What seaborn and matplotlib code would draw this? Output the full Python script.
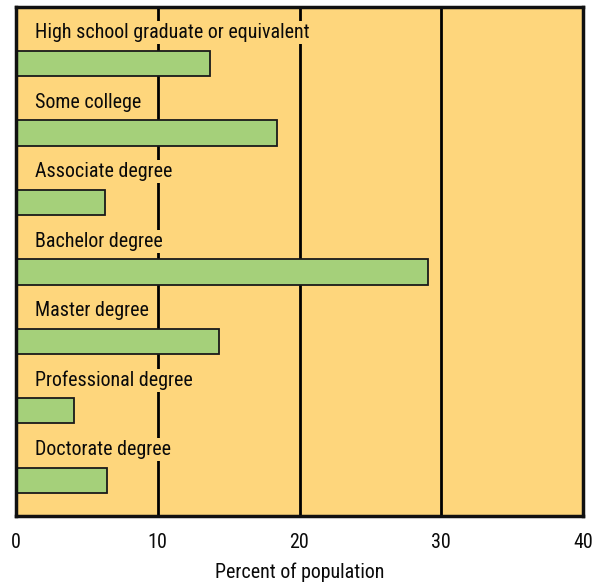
import matplotlib
matplotlib.use("Agg")
import matplotlib.pyplot as plt
import seaborn as sns
import pandas as pd

# data
categories = ["High school graduate or equivalent", "Some college", "Associate degree",
              "Bachelor degree", "Master degree", "Professional degree", "Doctorate degree"]
percent = [13.7, 18.4, 6.3, 29.1, 14.3, 4.1, 6.4]
x_ticks = [0, 10, 20, 30, 40]

bg = "#FED67C"
bar_col = "#A5D07A"

sns.set_theme(style="white")
plt.rcParams["font.family"] = ["Roboto Condensed", "Lato", "DejaVu Sans"]

df = pd.DataFrame({"level": categories, "pct": percent})

fig = plt.figure(figsize=(5.99, 5.82), dpi=100)
ax = fig.add_axes([16 / 599, (582 - 516) / 582, (583 - 16) / 599, (516 - 7) / 582])
ax.set_facecolor(bg)

for t in x_ticks[1:-1]:
    ax.axvline(t, color="black", lw=2, zorder=1)

sns.barplot(data=df, x="pct", y="level", orient="h", color=bar_col, width=0.36,
            edgecolor="#1a1a1a", linewidth=1.3, saturation=1, ax=ax, zorder=3)

for i, name in enumerate(categories):
    ax.text(1.35, i - 0.44, name, fontsize=14.4, va="center",
            ha="left", color="#0a0a0a", zorder=4,
            bbox=dict(facecolor=bg, edgecolor="none", pad=1.5))

ax.set_xlim(0, 40)
ax.set_ylim(6.511, -0.813)
ax.set_xticks(x_ticks)
ax.set_xticklabels([str(t) for t in x_ticks], fontsize=14.4, color="#0a0a0a")
ax.set_yticks([])
ax.set_ylabel("")
ax.set_xlabel("Percent of population", fontsize=14.4, color="#0a0a0a", labelpad=8)
ax.tick_params(axis="x", length=0, pad=12)
for s in ax.spines.values():
    s.set_color("#111111")
    s.set_linewidth(2.5)
    s.set_zorder(5)

fig.savefig("out.png", dpi=100)
